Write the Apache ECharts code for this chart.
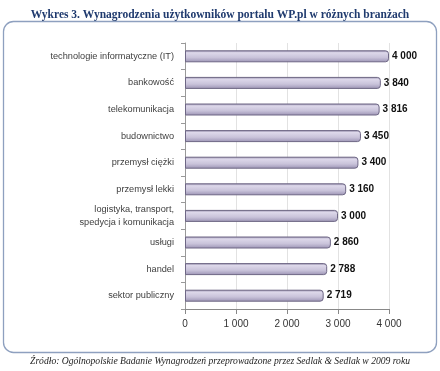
<!DOCTYPE html>
<html><head><meta charset="utf-8">
<script src="https://cdn.jsdelivr.net/npm/echarts@6/dist/echarts.min.js"></script>
<style>html,body{margin:0;padding:0;background:#fff}#c{width:440px;height:371px}</style>
</head><body><div id="c"></div>
<script>
const titleText = 'Wykres 3. Wynagrodzenia użytkowników portalu WP.pl w różnych branżach';
const sourceText = 'Źródło: Ogólnopolskie Badanie Wynagrodzeń przeprowadzone przez Sedlak & Sedlak w 2009 roku';
const categories = ['technologie informatyczne (IT)','bankowość','telekomunikacja','budownictwo','przemysł ciężki','przemysł lekki','logistyka, transport,\nspedycja i komunikacja','usługi','handel','sektor publiczny'];
const values = [4000,3840,3816,3450,3400,3160,3000,2860,2788,2719];
const xTicks = [0,1000,2000,3000,4000];

const fmt = v => String(v).replace(/\B(?=(\d{3})+(?!\d))/g, ' ');
const chart = echarts.init(document.getElementById('c'), null, {renderer:'canvas'});
chart.setOption({
  animation:false,
  backgroundColor:'#fff',
  title:{text:titleText,left:'center',top:4,textStyle:{fontFamily:'Liberation Serif',fontWeight:'bold',fontSize:11.5,color:'#1f3a6e'}},
  graphic:[
    {type:'rect',shape:{x:3.5,y:21.5,width:433,height:331,r:10},style:{fill:'none',stroke:'#8ea0bf',lineWidth:1.3}},
    {type:'text',left:'center',top:356,style:{text:sourceText,font:'italic 9.6px "Liberation Serif"',fill:'#222'}}
  ],
  grid:{left:185,top:43,width:204,height:266,containLabel:false},
  xAxis:{type:'value',min:0,max:4000,interval:1000,
    axisLine:{show:true,lineStyle:{color:'#888'}},
    axisTick:{show:true,lineStyle:{color:'#888'}},
    axisLabel:{color:'#333',fontSize:10,fontFamily:'Liberation Sans',margin:10,formatter:v=>xTicks.includes(v)?fmt(v):''},
    splitLine:{show:true,lineStyle:{color:'#e2e2e2'}}},
  yAxis:{type:'category',data:categories,inverse:true,
    axisLine:{show:true,lineStyle:{color:'#999'}},
    axisTick:{show:true,length:4,lineStyle:{color:'#999'}},
    axisLabel:{color:'#404040',fontSize:9.2,fontFamily:'Liberation Sans',margin:11,lineHeight:13,align:'right'}},
  series:[{type:'bar',data:values,barWidth:12,
    itemStyle:{borderColor:'#6e6785',borderWidth:1,borderRadius:[0,3,3,0],
      color:new echarts.graphic.LinearGradient(0,0,0,1,[
        {offset:0,color:'#8e86a6'},{offset:0.2,color:'#ddd8ea'},{offset:0.6,color:'#c9c3da'},{offset:1,color:'#9a92b3'}])},
    label:{show:true,position:'right',distance:3,formatter:p=>fmt(p.value),color:'#111',fontWeight:'bold',fontSize:10,fontFamily:'Liberation Sans'}}]
});
</script></body></html>
